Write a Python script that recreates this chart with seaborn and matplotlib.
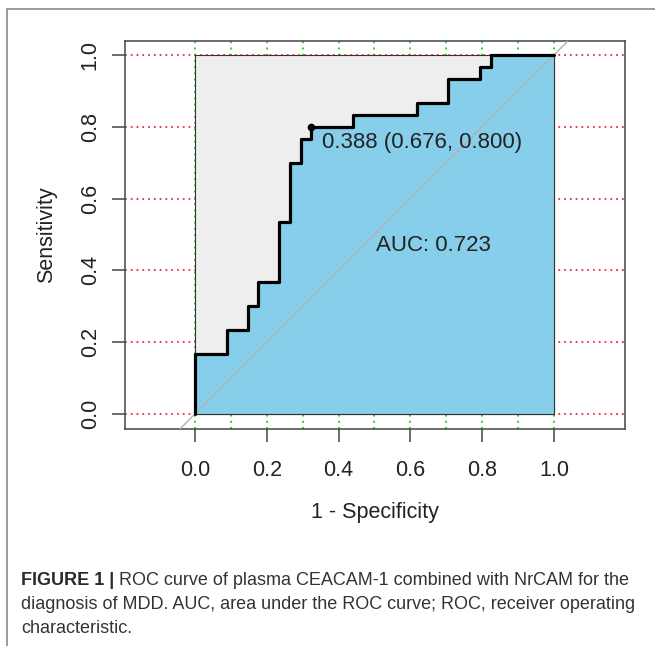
import numpy as np
import pandas as pd
import seaborn as sns
import matplotlib
matplotlib.use('Agg')
from matplotlib import pyplot as plt
from matplotlib.patches import Rectangle
from matplotlib.lines import Line2D

# ROC curve corners (1 - specificity, sensitivity)
fpr = [0, 0, 3/34, 5/34, 6/34, 8/34, 9/34, 10/34, 11/34, 15/34, 21/34,
       24/34, 27/34, 28/34, 1]
tpr = [0, 5/30, 7/30, 9/30, 11/30, 16/30, 21/30, 23/30, 24/30, 25/30,
       26/30, 28/30, 29/30, 1, 1]
best_fpr, best_tpr = 0.324, 0.800
best_label = '0.388 (0.676, 0.800)'
auc_label = 'AUC: 0.723'
ticks = [0.0, 0.2, 0.4, 0.6, 0.8, 1.0]
tick_labels = ['0.0', '0.2', '0.4', '0.6', '0.8', '1.0']
caption_bold = 'FIGURE 1 |'
caption_lines = [
    ' ROC curve of plasma CEACAM-1 combined with NrCAM for the',
    'diagnosis of MDD. AUC, area under the ROC curve; ROC, receiver operating',
    'characteristic.',
]

sns.set_style('white')
plt.rcParams['font.family'] = ['Liberation Sans', 'DejaVu Sans']

W, H = 655, 646
fig = plt.figure(figsize=(W / 100, H / 100), dpi=100)
ax = fig.add_axes([125 / W, 1 - 429 / H, 500 / W, 388 / H])
ax.set_xlim(-0.195, 1.198)
ax.set_ylim(-0.042, 1.039)

# grid first, polygons cover the inside of the unit square
for v in np.arange(0, 1.01, 0.1):
    ax.axvline(v, color='#22dd22', ls=(0, (1, 2.2)), lw=1.4, zorder=1)
for h in ticks:
    ax.axhline(h, color='#e8303a', ls=(0, (1, 2.2)), lw=1.3, zorder=1)

ax.add_patch(Rectangle((0, 0), 1, 1, facecolor='#EEEEEE',
                       edgecolor='#333333', lw=0.8, zorder=2))
df = pd.DataFrame({'fpr': fpr, 'tpr': tpr})
ax.fill_between(df.fpr, df.tpr, step='post', facecolor='#87CEEB',
                edgecolor='none', zorder=3)
ax.plot([1, 1, 0], [1, 0, 0], color='#333333', lw=0.8, zorder=3)
ax.axline((0, 0), (1, 1), color='#b0b0b0', lw=1, zorder=4)
sns.lineplot(data=df, x='fpr', y='tpr', drawstyle='steps-post',
             estimator=None, sort=False, color='black', lw=2.3, ax=ax,
             zorder=5)
ax.plot([best_fpr], [best_tpr], 'o', color='black', ms=4.5, zorder=6)
ax.text(0.353, 0.755, best_label, fontsize=16, color='#222222',
        ha='left', va='center', zorder=7)
ax.text(0.663, 0.469, auc_label, fontsize=16, color='#222222',
        ha='center', va='center', zorder=7)

ax.set_xticks(ticks, tick_labels)
ax.set_yticks(ticks, tick_labels)
for lbl in ax.get_yticklabels():
    lbl.set_rotation(90)
    lbl.set_va('center')
ax.tick_params(bottom=True, left=True, direction='out', length=9.4,
               width=1.1, color='#444444', labelsize=15.5,
               labelcolor='#222222')
ax.tick_params(axis='x', pad=13)
ax.tick_params(axis='y', pad=8)
for s in ax.spines.values():
    s.set_color('#444444')
    s.set_linewidth(1.1)
    s.set_visible(True)
ax.set_xlabel('1 - Specificity', fontsize=15.5, color='#222222')
ax.set_ylabel('Sensitivity', fontsize=15.5, color='#222222')
ax.xaxis.set_label_coords(0.5, -0.188)
ax.yaxis.set_label_coords(-0.136, 0.5)

# outer panel frame
fig.add_artist(Line2D([7 / W, 1], [1 - 9 / H] * 2, color='#8a8a8a', lw=1.2))
fig.add_artist(Line2D([7 / W] * 2, [0, 1 - 9 / H], color='#8a8a8a', lw=1.2))

# caption
x0 = 21 / W
baselines = [585, 609, 633]
r = fig.canvas.get_renderer()
t = fig.text(x0, 1 - baselines[0] / H, caption_bold, fontsize=13,
             fontweight='bold', color='#2a2a2a', va='baseline')
bb = t.get_window_extent(renderer=r)
fig.text(bb.x1 / W, 1 - baselines[0] / H, caption_lines[0], fontsize=13,
         color='#333333', va='baseline')
for line, yb in zip(caption_lines[1:], baselines[1:]):
    fig.text(x0, 1 - yb / H, line, fontsize=13, color='#333333',
             va='baseline')

fig.savefig('out.png', dpi=100)
